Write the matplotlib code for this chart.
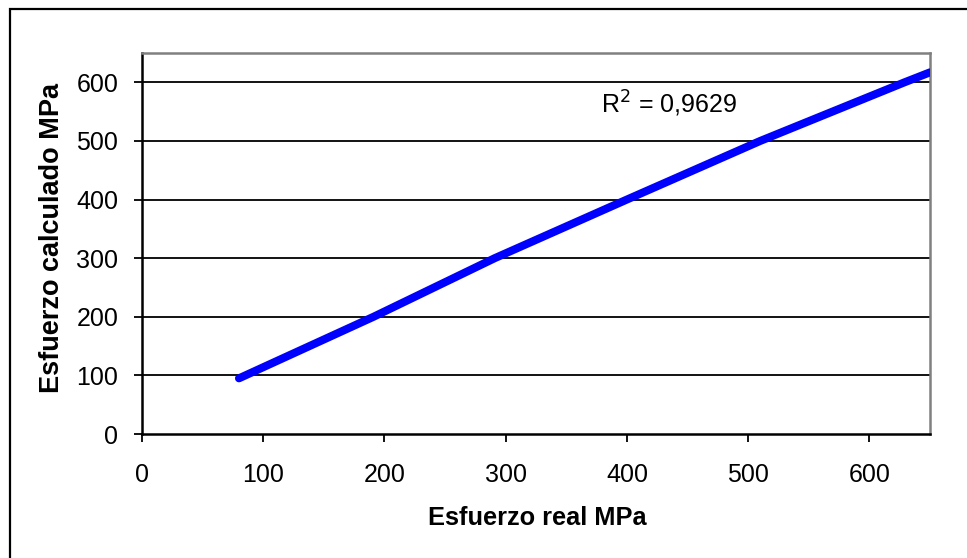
import matplotlib.pyplot as plt
from matplotlib.patches import Rectangle

# values
esfuerzo_real = [80, 191, 238, 291, 400, 510, 629, 650]
esfuerzo_calc = [95, 200, 247, 300, 400, 500, 600, 617]
x_ticks = [0, 100, 200, 300, 400, 500, 600]
y_ticks = [0, 100, 200, 300, 400, 500, 600]
r2_text = "R$^2$ = 0,9629"

plt.rcParams['font.family'] = ['Liberation Sans', 'DejaVu Sans']

fig = plt.figure(figsize=(9.67, 5.58), dpi=100)
ax = fig.add_axes([142 / 967, 1 - 434 / 558, (930 - 142) / 967, (434 - 53) / 558])

# outer chart border (clipped at right / bottom like the reference)
fig.patches.append(Rectangle((10 / 967, -0.1), 1.2, 1 - 9 / 558 + 0.1,
                             transform=fig.transFigure, fill=False,
                             edgecolor='black', linewidth=1.6))

for yv in y_ticks[1:]:
    ax.axhline(yv, color='black', linewidth=1.3, zorder=1)

ax.plot(esfuerzo_real, esfuerzo_calc, color='#0000FF', linewidth=5.8,
        solid_capstyle='round', zorder=3)

ax.set_xlim(0, 650)
ax.set_ylim(0, 650)
ax.set_xticks(x_ticks)
ax.set_yticks(y_ticks)
ax.tick_params(labelsize=18, direction='out', length=6, width=1.3,
               color='black')
ax.tick_params(axis='x', pad=15)
ax.tick_params(axis='y', pad=11)

for side in ['left', 'bottom']:
    ax.spines[side].set_color('black')
    ax.spines[side].set_linewidth(1.8)
for side in ['top', 'right']:
    ax.spines[side].set_color('#808080')
    ax.spines[side].set_linewidth(1.8)

ax.set_xlabel("Esfuerzo real MPa", fontsize=18.3, fontweight='bold')
ax.set_ylabel("Esfuerzo calculado MPa", fontsize=19.5, fontweight='bold')
ax.xaxis.set_label_coords(0.502, -0.188)
ax.yaxis.set_label_coords(-0.098, 0.514)

ax.text(379, 547, r2_text, fontsize=18, ha='left', va='baseline')

fig.savefig("out.png", dpi=100)
